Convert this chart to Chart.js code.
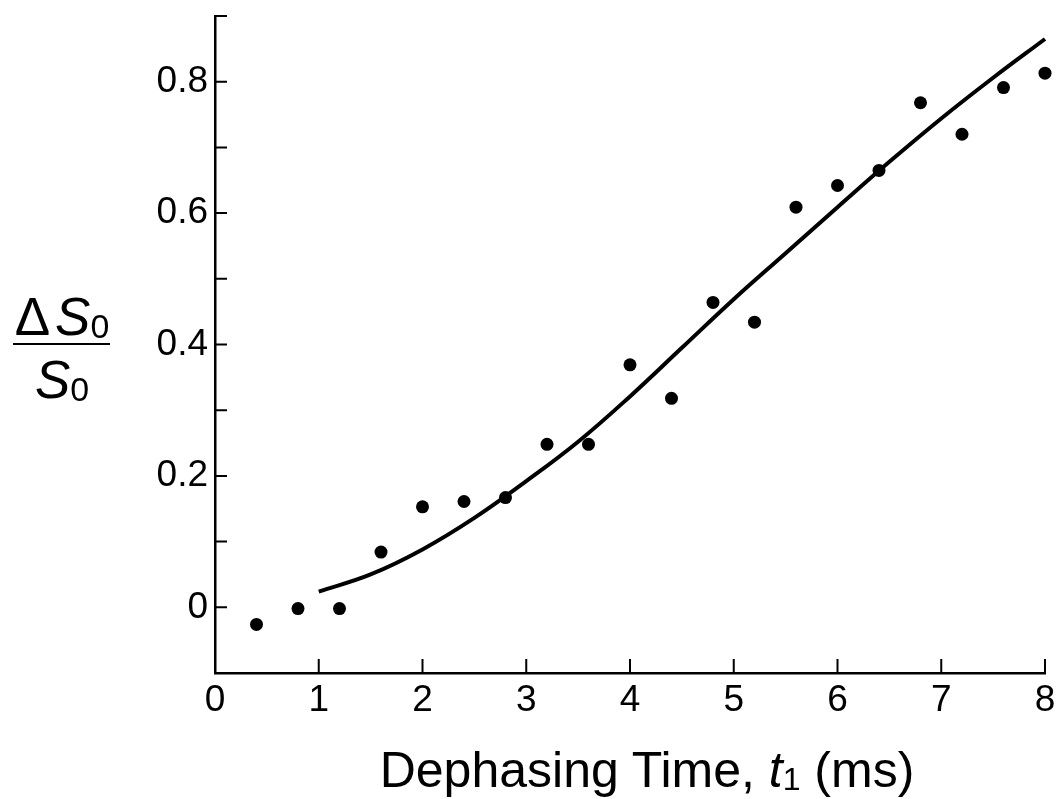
<!DOCTYPE html>
<html>
<head>
<meta charset="utf-8">
<title>Dephasing time</title>
<script src="https://cdn.jsdelivr.net/npm/chart.js@4/dist/chart.umd.min.js"></script>
<style>
	html, body {
		margin: 0;
		padding: 0;
		background: #ffffff;
	}
	#wrap {
		position: relative;
		width: 1059px;
		height: 799px;
		font-family: "Liberation Sans", Arial, sans-serif;
		color: #000;
	}
	#chart {
		position: absolute;
		left: 0;
		top: 0;
	}
	.title {
		position: absolute;
		line-height: 1;
		white-space: nowrap;
	}
	.title sub {
		font-size: 0.64em;
		vertical-align: -0.08em;
		line-height: 0;
	}
	#x-title {
		font-size: 50px;
		left: 647px;
		top: 745px;
		transform: translateX(-50%);
	}
	.frac {
		font-size: 53px;
		left: 62px;
		transform: translateX(-50%);
	}
	.delta {
		margin-right: 5px;
	}
	#y-num {
		top: 290px;
	}
	#y-den {
		top: 353px;
	}
	#y-bar {
		position: absolute;
		left: 13px;
		top: 343px;
		width: 97px;
		height: 2px;
		background: #000;
	}
</style>
</head>
<body>
<div id="wrap">
	<canvas id="chart" width="1059" height="799"></canvas>
	<div class="title frac" id="y-num"><span class="delta">&Delta;</span><i>S</i><sub>0</sub></div>
	<div id="y-bar"></div>
	<div class="title frac" id="y-den"><i>S</i><sub>0</sub></div>
	<div class="title" id="x-title">Dephasing Time, <i>t</i><sub>1</sub> (ms)</div>
</div>
<script>
(function () {
	'use strict';

	// measured points
	var pointTimes = [0.4, 0.8, 1.2, 1.6, 2.0, 2.4, 2.8, 3.2, 3.6, 4.0, 4.4, 4.8, 5.2, 5.6, 6.0, 6.4, 6.8, 7.2, 7.6, 8.0];
	var pointValues = [-0.026, -0.002, -0.002, 0.084, 0.153, 0.161, 0.167, 0.248, 0.248, 0.369, 0.318, 0.464, 0.434, 0.609, 0.642, 0.665, 0.768, 0.720, 0.791, 0.813];

	// fitted curve
	var fitTimes = [1.0, 1.5, 2.0, 2.5, 3.0, 3.5, 4.0, 4.5, 5.0, 5.5, 6.0, 6.5, 7.0, 7.5, 8.0];
	var fitValues = [0.024, 0.050, 0.088, 0.136, 0.192, 0.252, 0.321, 0.395, 0.469, 0.539, 0.609, 0.678, 0.744, 0.806, 0.865];

	// axis ranges and labelled ticks
	var xRange = [0, 8];
	var yRange = [-0.1, 0.9];
	var yLabelled = [0, 0.2, 0.4, 0.6, 0.8];

	function toXY(xs, ys) {
		return xs.map(function (x, i) {
			return { x: x, y: ys[i] };
		});
	}

	var inwardTicks = {
		id: 'inwardTicks',
		afterDraw: function (chart) {
			var ctx = chart.ctx;
			var area = chart.chartArea;
			var xs = chart.scales.x;
			var ys = chart.scales.y;

			ctx.save();
			ctx.strokeStyle = '#000';
			ctx.lineWidth = 2;
			ctx.beginPath();
			xs.ticks.forEach(function (tick) {
				var px = xs.getPixelForValue(tick.value);
				ctx.moveTo(px, area.bottom);
				ctx.lineTo(px, area.bottom - 14);
			});
			ys.ticks.forEach(function (tick) {
				var py = ys.getPixelForValue(tick.value);
				ctx.moveTo(area.left, py);
				ctx.lineTo(area.left + 12, py);
			});
			ctx.stroke();
			ctx.restore();
		},
	};

	var tickFont = {
		family: '"Liberation Sans", Arial, sans-serif',
		size: 37,
	};

	new Chart(document.getElementById('chart'), {
		type: 'scatter',
		data: {
			datasets: [
				{
					label: 'fit',
					data: toXY(fitTimes, fitValues),
					showLine: true,
					borderColor: '#000',
					borderWidth: 4,
					pointRadius: 0,
					tension: 0.4,
					fill: false,
					clip: false,
				},
				{
					label: 'data',
					data: toXY(pointTimes, pointValues),
					backgroundColor: '#000',
					borderColor: '#000',
					pointRadius: 6.5,
					borderWidth: 0,
					clip: false,
				},
			],
		},
		options: {
			responsive: false,
			animation: false,
			layout: {
				padding: {
					top: 16,
					right: 14,
					bottom: 0,
					left: 0,
				},
			},
			plugins: {
				legend: {
					display: false,
				},
				tooltip: {
					enabled: false,
				},
			},
			scales: {
				x: {
					type: 'linear',
					min: xRange[0],
					max: xRange[1],
					afterFit: function (scale) {
						scale.height = 126;
						scale.paddingLeft = 0;
						scale.paddingRight = 0;
					},
					grid: {
						display: true,
						drawOnChartArea: false,
						drawTicks: false,
					},
					border: {
						display: true,
						color: '#000',
						width: 2.5,
					},
					ticks: {
						stepSize: 1,
						color: '#000',
						font: tickFont,
						padding: 6,
						maxRotation: 0,
					},
				},
				y: {
					type: 'linear',
					min: yRange[0],
					max: yRange[1],
					afterFit: function (scale) {
						scale.width = 215;
						scale.paddingTop = 0;
						scale.paddingBottom = 0;
					},
					grid: {
						display: true,
						drawOnChartArea: false,
						drawTicks: false,
					},
					border: {
						display: true,
						color: '#000',
						width: 2.5,
					},
					ticks: {
						stepSize: 0.1,
						color: '#000',
						font: tickFont,
						padding: 7,
						callback: function (value) {
							var v = Math.round(value * 10) / 10;
							if (yLabelled.indexOf(v) === -1) {
								return '';
							}
							return v === 0 ? '0' : v.toFixed(1);
						},
					},
				},
			},
		},
		plugins: [inwardTicks],
	});
})();
</script>
</body>
</html>
